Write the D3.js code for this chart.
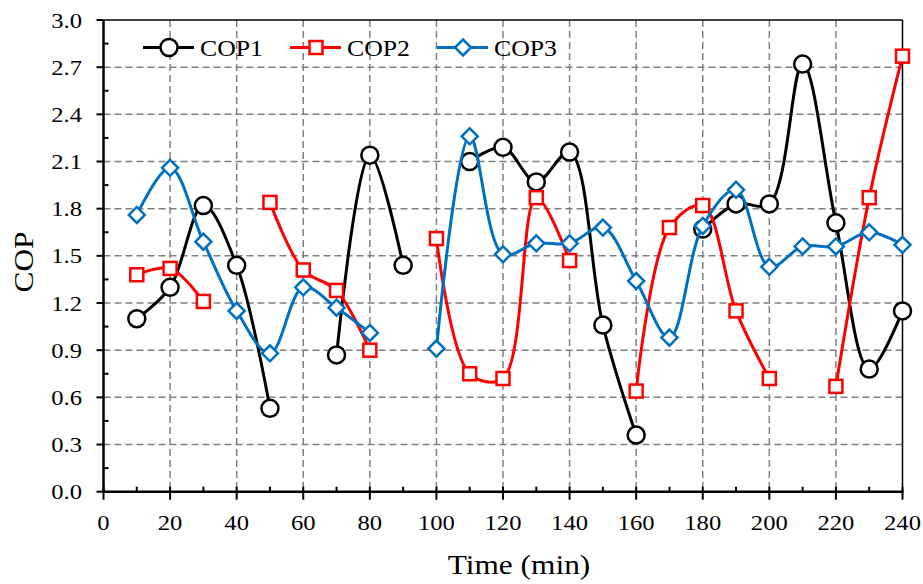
<!DOCTYPE html>
<html><head><meta charset="utf-8">
<script src="https://cdn.jsdelivr.net/npm/d3@7"></script>
<style>body{margin:0;background:#fff}svg{display:block}text{font-family:"Liberation Serif","Times New Roman",Times,serif}</style>
</head><body><svg id="c" width="923" height="584"></svg>
<script>
const times = [10,20,30,40,50,60,70,80,90,100,110,120,130,140,150,160,170,180,190,200,210,220,230,240];
const cop1 = [1.10,1.30,1.82,1.44,0.53,null,0.87,2.14,1.44,null,2.10,2.19,1.97,2.16,1.06,0.36,null,1.67,1.83,1.83,2.72,1.71,0.78,1.15];
const cop2 = [1.38,1.42,1.21,null,1.84,1.41,1.28,0.90,null,1.61,0.75,0.72,1.87,1.47,null,0.64,1.68,1.82,1.15,0.72,null,0.67,1.87,2.77];
const cop3 = [1.76,2.06,1.59,1.15,0.88,1.30,1.17,1.01,null,0.91,2.26,1.51,1.58,1.58,1.68,1.34,0.98,1.69,1.92,1.43,1.56,1.56,1.65,1.57];
const seriesNames = ["COP1","COP2","COP3"];
const xTicks = [0,20,40,60,80,100,120,140,160,180,200,220,240];
const yTicks = [0.0,0.3,0.6,0.9,1.2,1.5,1.8,2.1,2.4,2.7,3.0];
const xTitle = "Time (min)";
const yTitle = "COP";

const svg = d3.select("#c");
const L = 103.5, R = 902.5, T = 20, B = 491.7;
const x = d3.scaleLinear().domain([0,240]).range([L,R]);
const y = d3.scaleLinear().domain([0,3]).range([B,T]);
const SX = 1.12;

function txt(g, str, px, py, size, anchor, rot) {
  return g.append("text")
    .attr("transform", `translate(${px},${py})` + (rot ? ` rotate(${rot})` : "") + ` scale(${SX},1)`)
    .attr("font-size", size)
    .attr("text-anchor", anchor).attr("fill", "#000").text(str);
}

// grid
const grid = svg.append("g");
grid.selectAll("line.v").data(xTicks.filter(d => d > 0 && d < 240)).join("line")
  .attr("x1", d => x(d)).attr("x2", d => x(d)).attr("y1", T).attr("y2", B)
  .attr("stroke", "#808080").attr("stroke-width", 1.5).attr("stroke-dasharray", "7,4");
grid.selectAll("line.h").data(yTicks.filter(d => d > 0 && d < 3)).join("line")
  .attr("y1", d => y(d)).attr("y2", d => y(d)).attr("x1", L).attr("x2", R)
  .attr("stroke", "#808080").attr("stroke-width", 1.5).attr("stroke-dasharray", "7,4");

// frame top/right
svg.append("line").attr("x1", L).attr("x2", R).attr("y1", T).attr("y2", T).attr("stroke", "#000").attr("stroke-width", 1.5);
svg.append("line").attr("x1", R).attr("x2", R).attr("y1", T).attr("y2", B).attr("stroke", "#000").attr("stroke-width", 1.5);

// axes
const xMinor = d3.range(10, 240, 20);
const yMinor = d3.range(0.15, 3, 0.3);
const ax = svg.append("g");
ax.selectAll("line.xt").data(xTicks).join("line")
  .attr("x1", d => x(d)).attr("x2", d => x(d)).attr("y1", B - 5).attr("y2", B + 8)
  .attr("stroke", "#000").attr("stroke-width", 2);
ax.selectAll("line.xm").data(xMinor).join("line")
  .attr("x1", d => x(d)).attr("x2", d => x(d)).attr("y1", B - 5).attr("y2", B)
  .attr("stroke", "#000").attr("stroke-width", 2);
ax.selectAll("line.yt").data(yTicks).join("line")
  .attr("y1", d => y(d)).attr("y2", d => y(d)).attr("x1", L - 7).attr("x2", L)
  .attr("stroke", "#000").attr("stroke-width", 2);
ax.selectAll("line.ym").data(yMinor).join("line")
  .attr("y1", d => y(d)).attr("y2", d => y(d)).attr("x1", L).attr("x2", L + 5)
  .attr("stroke", "#000").attr("stroke-width", 2);
ax.append("line").attr("x1", L).attr("x2", L).attr("y1", T).attr("y2", B).attr("stroke", "#000").attr("stroke-width", 2.5);
ax.append("line").attr("x1", L - 1).attr("x2", R + 1).attr("y1", B).attr("y2", B).attr("stroke", "#000").attr("stroke-width", 2.5);

const lab = svg.append("g");
xTicks.forEach(d => txt(lab, String(d), x(d), 530, 22, "middle"));
yTicks.forEach(d => txt(lab, d.toFixed(1), 82, y(d) + 7.5, 22, "end"));
txt(lab, xTitle, 519, 574, 28, "middle");
txt(lab, yTitle, 33, 262, 28, "middle", -90);

// series
const colors = ["#000000", "#FF0000", "#0070C0"];
const datas = [cop1, cop2, cop3];
const line = d3.line().defined(d => d[1] != null).x(d => x(d[0])).y(d => y(d[1])).curve(d3.curveCatmullRom.alpha(0.5));

function marker(g, type, color, cx, cy) {
  if (type === 0) g.append("circle").attr("cx", cx).attr("cy", cy).attr("r", 8.5).attr("fill", "#fff").attr("stroke", color).attr("stroke-width", 2.5);
  else if (type === 1) g.append("rect").attr("x", cx - 6.5).attr("y", cy - 6.5).attr("width", 13).attr("height", 13).attr("fill", "#fff").attr("stroke", color).attr("stroke-width", 2.5);
  else g.append("path").attr("d", `M${cx},${cy-8}L${cx+8},${cy}L${cx},${cy+8}L${cx-8},${cy}Z`).attr("fill", "#fff").attr("stroke", color).attr("stroke-width", 2.5);
}

datas.forEach((arr, i) => {
  const pts = times.map((t, j) => [t, arr[j]]);
  const g = svg.append("g");
  g.append("path").attr("d", line(pts)).attr("fill", "none").attr("stroke", colors[i]).attr("stroke-width", 3);
  pts.filter(p => p[1] != null).forEach(p => marker(g, i, colors[i], x(p[0]), y(p[1])));
});

// legend
const lg = svg.append("g");
const legX = [143, 290, 437];
seriesNames.forEach((n, i) => {
  const lx = legX[i], ly = 47.5;
  lg.append("line").attr("x1", lx).attr("x2", lx + 51).attr("y1", ly).attr("y2", ly).attr("stroke", colors[i]).attr("stroke-width", 3);
  marker(lg, i, colors[i], lx + 26, ly);
  txt(lg, n, lx + 57, ly + 8, 23, "start");
});
</script></body></html>
